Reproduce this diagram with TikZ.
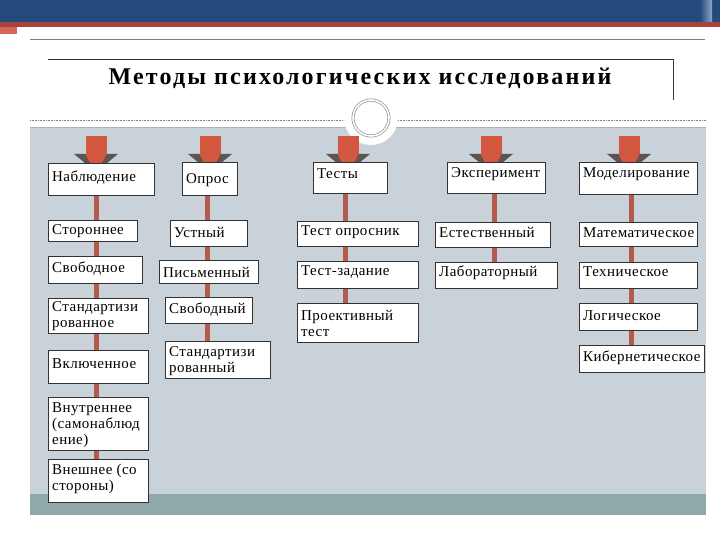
\documentclass[tikz,border=0pt]{standalone}
\usepackage{fontspec}
\setmainfont{Liberation Serif}
\usetikzlibrary{calc}
\definecolor{barblue}{HTML}{234A7B}
\definecolor{barlight}{HTML}{8FA6C4}
\definecolor{redline}{HTML}{A8423F}
\definecolor{redbit}{HTML}{D9655A}
\definecolor{panel}{HTML}{C8D2D8}
\definecolor{teal}{HTML}{8FA9AA}
\definecolor{arrowred}{HTML}{D4573F}
\definecolor{headgray}{HTML}{5C5552}
\definecolor{stemred}{HTML}{B45B4B}
\definecolor{boxline}{HTML}{333333}
\definecolor{ringgray}{HTML}{8E9699}
\pgfdeclarelayer{bg}\pgfdeclarelayer{mid}\pgfsetlayers{bg,mid,main}
\newcommand\bx[7]{%
  \node[box, anchor=north west, minimum width={(#4-#2)*1pt}, minimum height={(#5-#3)*1pt}] (#1) at (#2,#3) {};
  \node[txt, anchor=west] (#1t) at (#2+4,#6) {#7};}
\newcommand\blockarrow[1]{%
  \fill[arrowred] (#1-10.5,136) rectangle (#1+10.5,155);
  \fill[headgray] (#1-22,154) -- (#1+22,154) -- (#1,172) -- cycle;
  \fill[arrowred] (#1-10.5,154) -- (#1+10.5,154) -- (#1+4,167) -- (#1-4,167) -- cycle;}
\begin{document}
\begin{tikzpicture}[x=1pt,y=-1pt,
  box/.style={draw=boxline, line width=0.6pt, fill=white, inner sep=0pt, outer sep=0pt, rectangle},
  txt/.style={inner sep=0pt, align=left, font=\fontsize{15}{16}\selectfont\addfontfeature{LetterSpace=3}},
  stem/.style={draw=stemred, line width=5pt}]
\useasboundingbox (0,0) rectangle (720,540);
\begin{pgfonlayer}{bg}
\fill[white] (0,0) rectangle (720,540);
\fill[barblue] (0,0) rectangle (720,22);
\shade[left color=barblue, right color=barlight] (700,0) rectangle (712,22);
\fill[redline] (0,22) rectangle (720,27);
\fill[redbit] (0,27) rectangle (17,34);
\draw[gray, line width=0.8pt] (30,39) -- (705,39);
\fill[panel] (30,128) rectangle (706,494);
\fill[teal] (30,494) rectangle (706,515);
\draw[gray!60, line width=0.5pt] (30,127.5) -- (706,127.5);
\draw[gray, densely dotted, line width=0.6pt] (30,120) -- (706,120);
\fill[white] (371,118) circle (27);
\end{pgfonlayer}
% title
\draw[boxline, line width=0.8pt] (48,59) -- (673,59) -- (673,100);
\node[font=\fontsize{24}{28}\selectfont\bfseries\addfontfeature{LetterSpace=9}] (title) at (360,78) {Методы психологических исследований};
\node[circle, draw=ringgray, double=white, double distance=1.6pt, line width=0.7pt, fill=white, minimum size=36pt, inner sep=0pt] (ring) at (371,118) {};
% arrows
\blockarrow{96}
\blockarrow{210}
\blockarrow{348}
\blockarrow{491}
\blockarrow{629}
% column 1
\bx{a0}{48}{163}{154}{195}{178}{Наблюдение}
\bx{a1}{48}{220}{137}{241}{231}{Стороннее}
\bx{a2}{48}{256}{142}{283}{269}{Свободное}
\bx{a3}{48}{298}{148}{333}{316}{Стандартизи\\рованное}
\bx{a4}{48}{350}{148}{383}{364}{Включенное}
\bx{a5}{48}{397}{148}{450}{425}{Внутреннее\\(самонаблюд\\ение)}
\bx{a6}{48}{459}{148}{502}{479}{Внешнее (со\\стороны)}
% column 2
\bx{b0}{182}{162}{237}{195}{180}{Опрос}
\bx{b1}{170}{220}{247}{246}{232}{Устный}
\bx{b2}{159}{260}{258}{283}{272}{Письменный}
\bx{b3}{165}{297}{252}{323}{310}{Свободный}
\bx{b4}{165}{341}{270}{378}{361}{Стандартизи\\рованный}
% column 3
\bx{c0}{313}{162}{387}{193}{174}{Тесты}
\bx{c1}{297}{221}{418}{246}{232}{Тест опросник}
\bx{c2}{297}{261}{418}{288}{272}{Тест-задание}
\bx{c3}{297}{303}{418}{342}{323}{Проективный\\тест}
% column 4
\bx{d0}{447}{162}{545}{193}{174}{Эксперимент}
\bx{d1}{435}{222}{550}{247}{232}{Естественный}
\bx{d2}{435}{262}{557}{288}{273}{Лабораторный}
% column 5
\bx{e0}{579}{162}{697}{194}{174}{Моделирование}
\bx{e1}{579}{222}{697}{246}{233}{Математическое}
\bx{e2}{579}{262}{697}{288}{272}{Техническое}
\bx{e3}{579}{303}{697}{330}{316}{Логическое}
\bx{e4}{579}{345}{704}{372}{358}{Кибернетическое}
% stems
\coordinate (s1) at (96,0);
\coordinate (s2) at (207,0);
\coordinate (s3) at (345,0);
\coordinate (s4) at (494,0);
\coordinate (s5) at (631,0);
\begin{pgfonlayer}{mid}
\draw[stem] (s1 |- a0.south) -- (s1 |- a6.north);
\draw[stem] (s2 |- b0.south) -- (s2 |- b4.north);
\draw[stem] (s3 |- c0.south) -- (s3 |- c3.north);
\draw[stem] (s4 |- d0.south) -- (s4 |- d2.north);
\draw[stem] (s5 |- e0.south) -- (s5 |- e4.north);
\end{pgfonlayer}
\end{tikzpicture}
\end{document}
